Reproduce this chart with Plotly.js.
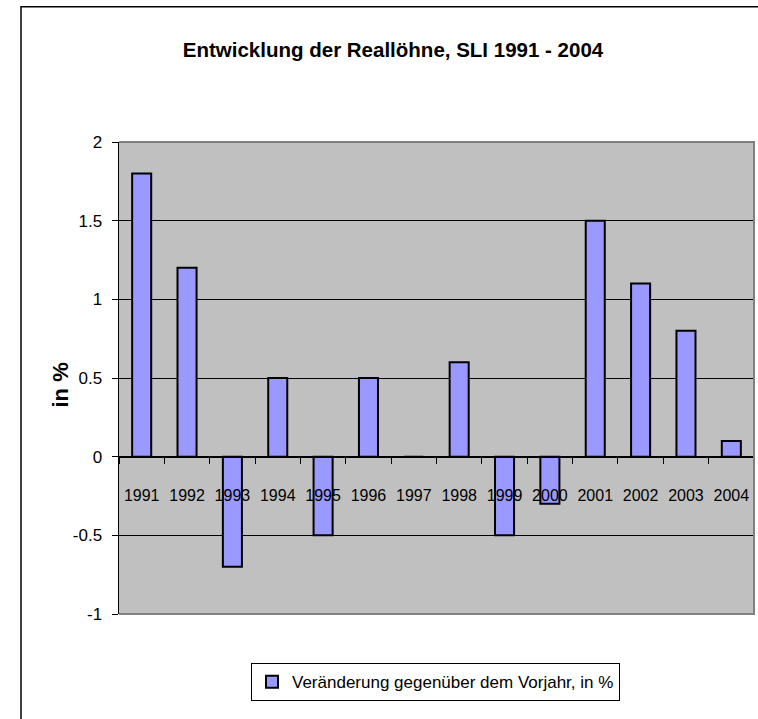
<!DOCTYPE html>
<html>
<head>
<meta charset="utf-8">
<script src="https://cdn.plot.ly/plotly-3.0.1.min.js"></script>
<style>html,body{margin:0;padding:0;background:#fff;}#chart{width:758px;height:719px;}</style>
</head>
<body>
<div id="chart"></div>
<script>
const years = ['1991','1992','1993','1994','1995','1996','1997','1998','1999','2000','2001','2002','2003','2004'];
const changes = [1.8, 1.2, -0.7, 0.5, -0.5, 0.5, 0, 0.6, -0.5, -0.3, 1.5, 1.1, 0.8, 0.1];
const seriesName = 'Veränderung gegenüber dem Vorjahr, in %';
const titleText = 'Entwicklung der Reallöhne, SLI 1991 - 2004';
const yTitle = 'in %';
const yTicks = [-1, -0.5, 0, 0.5, 1, 1.5, 2];
const yTickText = ['-1', '-0.5', '0', '0.5', '1', '1.5', '2'];

const FONT = '"Liberation Sans", Arial, sans-serif';

const trace = {
  type: 'bar',
  x: years,
  y: changes,
  name: seriesName,
  showlegend: true,
  marker: {color: '#9999FF', line: {color: '#000000', width: 2}},
  hoverinfo: 'x+y'
};

const layout = {
  width: 758, height: 719,
  margin: {l: 119, r: 4, t: 142, b: 105},
  paper_bgcolor: '#ffffff',
  plot_bgcolor: '#C0C0C0',
  font: {family: FONT, color: '#000', size: 16},
  title: {
    text: '<b>' + titleText + '</b>',
    font: {family: FONT, size: 20.5, color: '#000'},
    x: 393 / 758, xref: 'container', xanchor: 'center',
    y: 1 - 50 / 719, yref: 'container', yanchor: 'middle'
  },
  bargap: 0.58,
  xaxis: {
    type: 'category',
    anchor: 'free', position: 1/3,
    showline: true, linecolor: '#000', linewidth: 1,
    ticks: 'outside', tickson: 'boundaries', ticklen: 6, tickcolor: '#000', tickwidth: 1,
    showgrid: false, zeroline: false,
    tickangle: 0,
    tickfont: {family: FONT, size: 16, color: '#000'},
    ticklabelstandoff: 24,
    fixedrange: true
  },
  yaxis: {
    range: [-1, 2],
    tickvals: yTicks, ticktext: yTickText,
    showline: true, linecolor: '#000', linewidth: 1.5,
    ticks: 'outside', ticklen: 6, tickcolor: '#000',
    showgrid: true, gridcolor: '#000', gridwidth: 1,
    zeroline: true, zerolinecolor: '#000', zerolinewidth: 1,
    tickfont: {family: FONT, size: 17, color: '#000'},
    ticklabelstandoff: 6,
    fixedrange: true
  },
  annotations: [{
    text: '<b>' + yTitle + '</b>',
    xref: 'paper', yref: 'paper',
    x: (61 - 119) / 635, y: (613 - 385) / 471,
    xanchor: 'center', yanchor: 'middle',
    textangle: -90, showarrow: false,
    font: {family: FONT, size: 22, color: '#000'}
  }],
  legend: {
    x: (251 - 119) / 635, y: -(662 - 613) / 471,
    xanchor: 'left', yanchor: 'top',
    bordercolor: '#000', borderwidth: 1, bgcolor: '#fff',
    font: {family: FONT, size: 17, color: '#000'},
    itemwidth: 30,
    itemsizing: 'constant'
  },
  shapes: [
    {type: 'path', xref: 'paper', yref: 'paper', path: 'M0,1 L1,1 L1,0 L0,0',
     line: {color: '#808080', width: 2}, layer: 'above'},
    {type: 'rect', xref: 'paper', yref: 'paper',
     x0: (21 - 119) / 635, x1: 1.2, y0: -0.5, y1: (613 - 7) / 471,
     line: {color: '#000', width: 1.5}, fillcolor: 'rgba(0,0,0,0)', layer: 'above'}
  ]
};

Plotly.newPlot('chart', [trace], layout, {displayModeBar: false, staticPlot: true});
</script>
</body>
</html>
